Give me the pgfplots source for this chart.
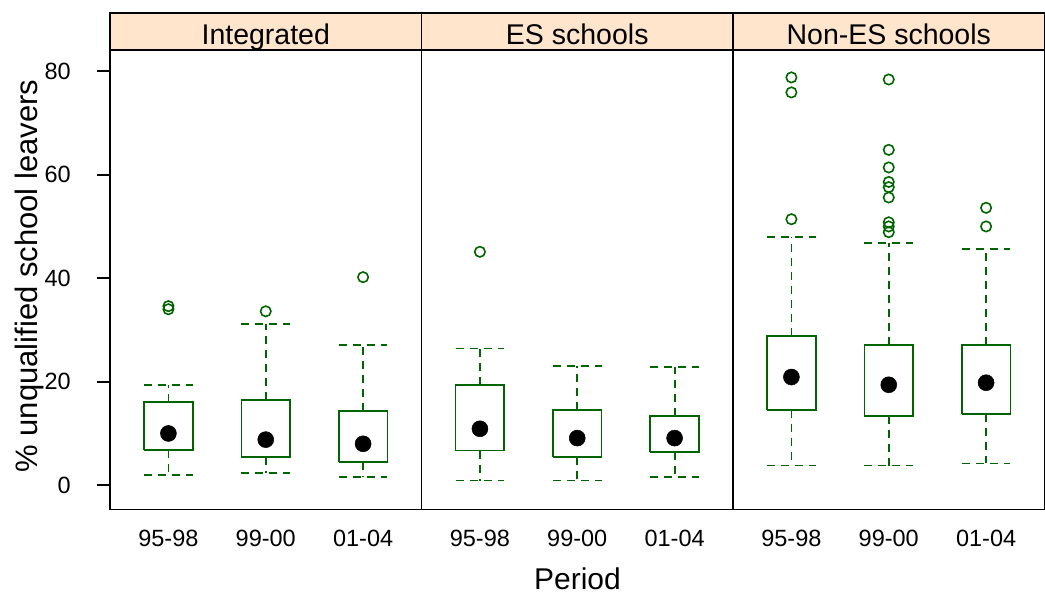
\documentclass[border=0pt]{standalone}
\usepackage{fontspec}
\setmainfont{Liberation Sans}
\usepackage{pgfplots}
\pgfplotsset{compat=1.18}
\definecolor{bwgreen}{RGB}{0,100,0}
\definecolor{stripbg}{HTML}{FFE5CC}
\newcommand\ticksize{\fontsize{23.5bp}{28bp}\selectfont}
\newcommand\labsize{\fontsize{31bp}{36bp}\selectfont}
\newcommand\xlabsize{\fontsize{30bp}{36bp}\selectfont}
\newcommand\stripsize{\fontsize{28.5bp}{34bp}\selectfont}
\pgfplotsset{
  panel/.style={
    scale only axis, width=311.5bp, height=459.5bp, anchor=south west,
    xmin=0.4, xmax=3.6, ymin=-4.7, ymax=84.1,
    xtick={1,2,3}, xticklabels={95-98,99-00,01-04},
    major x tick style={draw=none},
    tick align=outside, major tick length=13bp,
    xticklabel style={font=\ticksize, yshift=-3bp},
    yticklabel style={font=\ticksize},
    line width=1.8bp,
    axis line style={line width=1.8bp},
    /pgf/number format/assume math mode=true,
  },
  whisk/.style={bwgreen, line width=1.8bp, dash pattern=on 8bp off 6bp, mark=none},
  boxline/.style={bwgreen, line width=1.8bp, solid, mark=none},
  med/.style={only marks, mark=*, mark size=8bp, black, mark options={fill=black, draw=black, line width=0.5bp}},
  outl/.style={only marks, mark=o, mark size=5.2bp, bwgreen, mark options={line width=1.6bp, draw=bwgreen}},
}
% #1 pos, #2 left, #3 right, #4 lower whisker, #5 lower quartile, #6 median, #7 upper quartile, #8 upper whisker
\newcommand\bwbox[8]{%
  \addplot[whisk] coordinates {(#1,#5) (#1,#4)};
  \addplot[whisk] coordinates {(#2,#4) (#3,#4)};
  \addplot[whisk] coordinates {(#1,#7) (#1,#8)};
  \addplot[whisk] coordinates {(#2,#8) (#3,#8)};
  \addplot[boxline] coordinates {(#2,#5) (#3,#5) (#3,#7) (#2,#7) (#2,#5)};
  \addplot[med] coordinates {(#1,#6)};
}
\begin{document}
\begin{tikzpicture}
% Panel 1: Integrated
\begin{axis}[panel, at={(110bp,84.5bp)},
  ytick={0,20,40,60,80}, ytick pos=left,
  ytick style={line width=1.8bp, black},
  yticklabel style={xshift=-22bp}]
\bwbox{1}{0.75}{1.25}{2.0}{6.8}{10.0}{16.1}{19.4}
\bwbox{2}{1.75}{2.25}{2.3}{5.5}{8.8}{16.4}{31.2}
\bwbox{3}{2.75}{3.25}{1.6}{4.5}{8.0}{14.4}{27.1}
\addplot[outl] coordinates {(1,34.0) (1,34.6) (2,33.6) (3,40.2)};
\end{axis}
% Panel 2: ES schools
\begin{axis}[panel, at={(421.5bp,84.5bp)}, ytick=\empty]
\bwbox{1}{0.75}{1.25}{0.9}{6.7}{10.9}{19.3}{26.4}
\bwbox{2}{1.75}{2.25}{0.9}{5.5}{9.1}{14.5}{23.1}
\bwbox{3}{2.75}{3.25}{1.6}{6.4}{9.1}{13.4}{22.8}
\addplot[outl] coordinates {(1,45.1)};
\end{axis}
% Panel 3: Non-ES schools
\begin{axis}[panel, at={(733bp,84.5bp)}, ytick=\empty]
\bwbox{1}{0.75}{1.25}{3.8}{14.6}{20.9}{28.9}{47.9}
\bwbox{2}{1.75}{2.25}{3.8}{13.4}{19.4}{27.1}{46.8}
\bwbox{3}{2.75}{3.25}{4.2}{13.8}{19.8}{27.1}{45.6}
\addplot[outl] coordinates {(1,51.4) (1,75.9) (1,78.8)
  (2,48.9) (2,50.0) (2,50.8) (2,55.6) (2,57.6) (2,58.6) (2,61.4) (2,64.8) (2,78.4)
  (3,50.0) (3,53.6)};
\end{axis}
% strips
\foreach \x/\t in {110/Integrated, 421.5/ES schools, 733/Non-ES schools}{
  \draw[line width=1.8bp, fill=stripbg] (\x bp,544bp) rectangle ++(311.5bp,37bp);
  \node[anchor=base, inner sep=0pt, font=\stripsize] at (\x bp+155.75bp,549bp) {\t};
}
% axis labels
\node[rotate=90, anchor=base, inner sep=0pt, font=\labsize] at (37bp,318bp) {\% unqualified school leavers};
\node[anchor=base, inner sep=0pt, font=\xlabsize] at (577.5bp,5bp) {Period};
\pgfresetboundingbox
\useasboundingbox (0,0) rectangle (1045bp,594bp);
\end{tikzpicture}
\end{document}
